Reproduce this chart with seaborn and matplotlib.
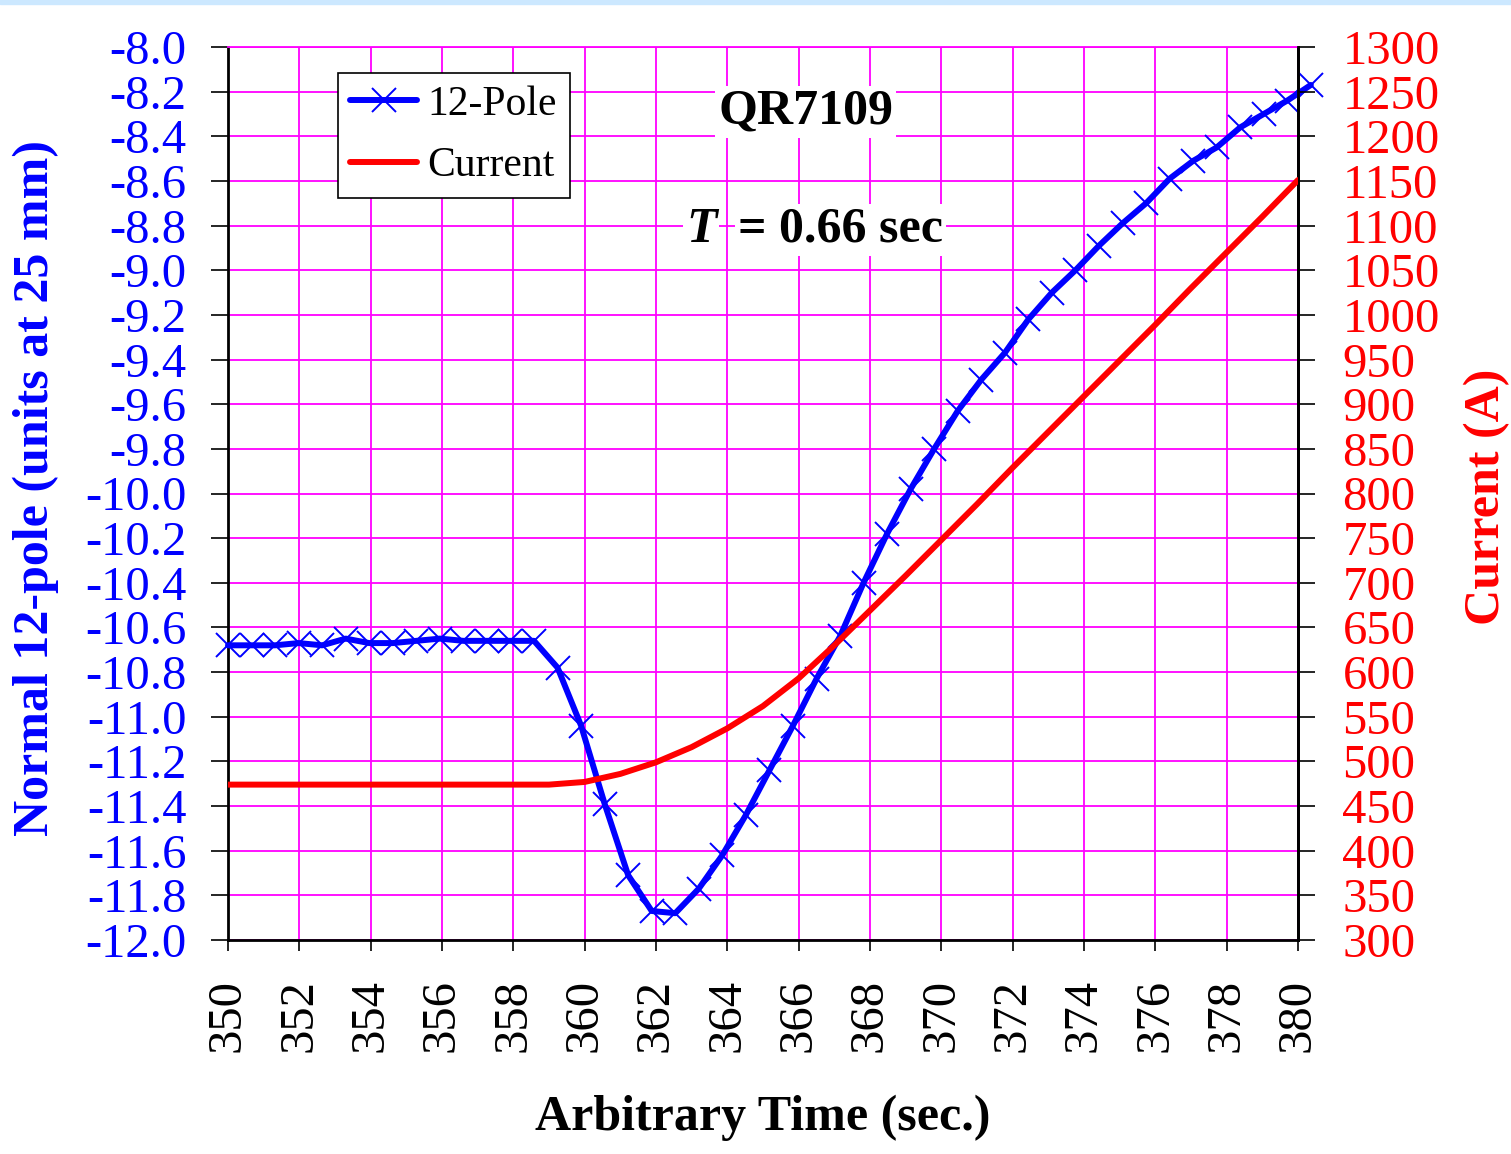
import matplotlib
matplotlib.use("Agg")
import matplotlib.pyplot as plt
import seaborn as sns
import pandas as pd
from matplotlib.ticker import MultipleLocator, FormatStrFormatter
from matplotlib.lines import Line2D
from matplotlib.patches import Rectangle

# 12-pole harmonic sampled every 0.66 s
time_pole = [350.00, 350.66, 351.32, 351.98, 352.64, 353.30, 353.96, 354.62,
             355.28, 355.94, 356.60, 357.26, 357.92, 358.58, 359.24, 359.90,
             360.56, 361.22, 361.88, 362.54, 363.20, 363.86, 364.52, 365.18,
             365.84, 366.50, 367.16, 367.82, 368.48, 369.14, 369.80, 370.46,
             371.12, 371.78, 372.44, 373.10, 373.76, 374.42, 375.08, 375.74,
             376.40, 377.06, 377.72, 378.38, 379.04, 379.70, 380.36]
pole12 = [-10.68, -10.68, -10.68, -10.67, -10.68, -10.65, -10.67, -10.67,
          -10.66, -10.65, -10.66, -10.66, -10.66, -10.66, -10.78, -11.04,
          -11.39, -11.71, -11.87, -11.88, -11.77, -11.62, -11.44, -11.24,
          -11.04, -10.83, -10.64, -10.40, -10.18, -9.98, -9.80, -9.63,
          -9.49, -9.37, -9.22, -9.10, -9.00, -8.89, -8.79, -8.70,
          -8.59, -8.51, -8.45, -8.36, -8.30, -8.24, -8.17]

# Magnet current ramp
time_current = [350, 351, 352, 353, 354, 355, 356, 357, 358, 359, 360,
                361, 362, 363, 364, 365, 366, 367, 368, 369, 370,
                371, 372, 373, 374, 375, 376, 377, 378, 379, 380]
current = [474, 474, 474, 474, 474, 474, 474, 474, 474, 474, 477,
           486, 499, 516, 537, 562, 593, 630, 669, 708, 748,
           788, 829, 869, 909, 949, 989, 1030, 1070, 1110, 1151]

x_ticks = [350, 352, 354, 356, 358, 360, 362, 364, 366, 368, 370, 372, 374, 376, 378, 380]

pole_df = pd.DataFrame({"time": time_pole, "pole": pole12})
cur_df = pd.DataFrame({"time": time_current, "current": current})

sns.set_theme(style="white")
plt.rcParams["font.family"] = ["Liberation Serif", "DejaVu Serif"]
plt.rcParams["axes.unicode_minus"] = False
plt.rcParams["text.color"] = "black"

BLUE = "#0000FF"
RED = "#FF0000"
MAGENTA = "#FF00FF"

fig = plt.figure(figsize=(15.11, 11.54), dpi=100)
fig.patches.append(Rectangle((0, 1 - 4 / 1154), 1, 4 / 1154, transform=fig.transFigure,
                             color="#CCE8FF", zorder=0))
ax = fig.add_axes([228 / 1511, 1 - 940 / 1154, 1070 / 1511, 893 / 1154])
ax2 = ax.twinx()

sns.lineplot(data=pole_df, x="time", y="pole", ax=ax, color=BLUE, lw=4.3,
             marker="x", markersize=17, markeredgewidth=1.4, markeredgecolor=BLUE,
             clip_on=False, legend=False, zorder=5)
sns.lineplot(data=cur_df, x="time", y="current", ax=ax2, color=RED, lw=4.3,
             legend=False, zorder=4)

ax.set_xlim(350, 380)
ax.set_ylim(-12.0, -8.0)
ax2.set_ylim(300, 1300)
ax.set_xticks(x_ticks)
ax.yaxis.set_major_locator(MultipleLocator(0.2))
ax.yaxis.set_major_formatter(FormatStrFormatter("%.1f"))
ax2.yaxis.set_major_locator(MultipleLocator(50))

ax.grid(True, color=MAGENTA, lw=1.3)
ax2.grid(False)
ax.set_axisbelow(True)

ax.tick_params(axis="y", left=True, direction="out", length=12, width=1.2, color="black",
               labelsize=35, labelcolor=BLUE, pad=18)
ax.tick_params(axis="x", bottom=True, direction="out", length=8, width=1.2, color="black",
               labelsize=35, labelcolor="black", labelrotation=90, pad=20)
ax2.tick_params(axis="y", right=True, direction="out", length=12, width=1.2, color="black",
                labelsize=35, labelcolor=RED, pad=20)

for name in ["left", "bottom", "right"]:
    ax.spines[name].set_color("black")
    ax.spines[name].set_linewidth(2)
ax.spines["top"].set_color(MAGENTA)
ax.spines["top"].set_linewidth(1.3)
for name in ["left", "bottom", "top"]:
    ax2.spines[name].set_visible(False)
ax2.spines["right"].set_color("black")
ax2.spines["right"].set_linewidth(2)

ax.set_xlabel("Arbitrary Time (sec.)", fontsize=36, fontweight="bold", color="black")
ax.xaxis.set_label_coords(0.5, -0.199)
ax.xaxis.label.set_verticalalignment("center")
ax.set_ylabel("Normal 12-pole (units at 25 mm)", fontsize=36, fontweight="bold", color=BLUE)
ax.yaxis.set_label_coords(-0.1794, 0.506)
ax.yaxis.label.set_verticalalignment("center")
ax2.set_ylabel("Current (A)", fontsize=36, fontweight="bold", color=RED)
ax2.yaxis.set_label_coords(1.1766, 0.496)
ax2.yaxis.label.set_verticalalignment("center")

handles = [Line2D([], [], color=BLUE, lw=4.3, marker="x", markersize=17,
                  markeredgewidth=1.4, markeredgecolor=BLUE),
           Line2D([], [], color=RED, lw=4.3)]
leg = ax2.legend(handles, ["12-Pole", "Current"], loc="upper left",
                 bbox_to_anchor=(0.1028, 0.9709), borderaxespad=0, frameon=True,
                 fancybox=False, edgecolor="black", framealpha=1, fontsize=30,
                 handlelength=1.6, handletextpad=0.25, borderpad=0.3,
                 labelspacing=0.55, numpoints=1, labelcolor="black")
leg.get_frame().set_linewidth(1.2)

box = dict(facecolor="white", edgecolor="none", pad=2)
ax2.text(0.540, 0.9272, "QR7109", transform=ax2.transAxes, fontsize=36,
         fontweight="bold", ha="center", va="center", bbox=box, zorder=6, color="black")
ax2.text(0.4280, 0.7955, "T", transform=ax2.transAxes, fontsize=36,
         fontweight="bold", fontstyle="italic", ha="left", va="center", bbox=box,
         zorder=6, color="black")
ax2.text(0.4766, 0.7955, "= 0.66 sec", transform=ax2.transAxes, fontsize=36,
         fontweight="bold", ha="left", va="center", bbox=box, zorder=6, color="black")

fig.savefig("out.png", dpi=100)
